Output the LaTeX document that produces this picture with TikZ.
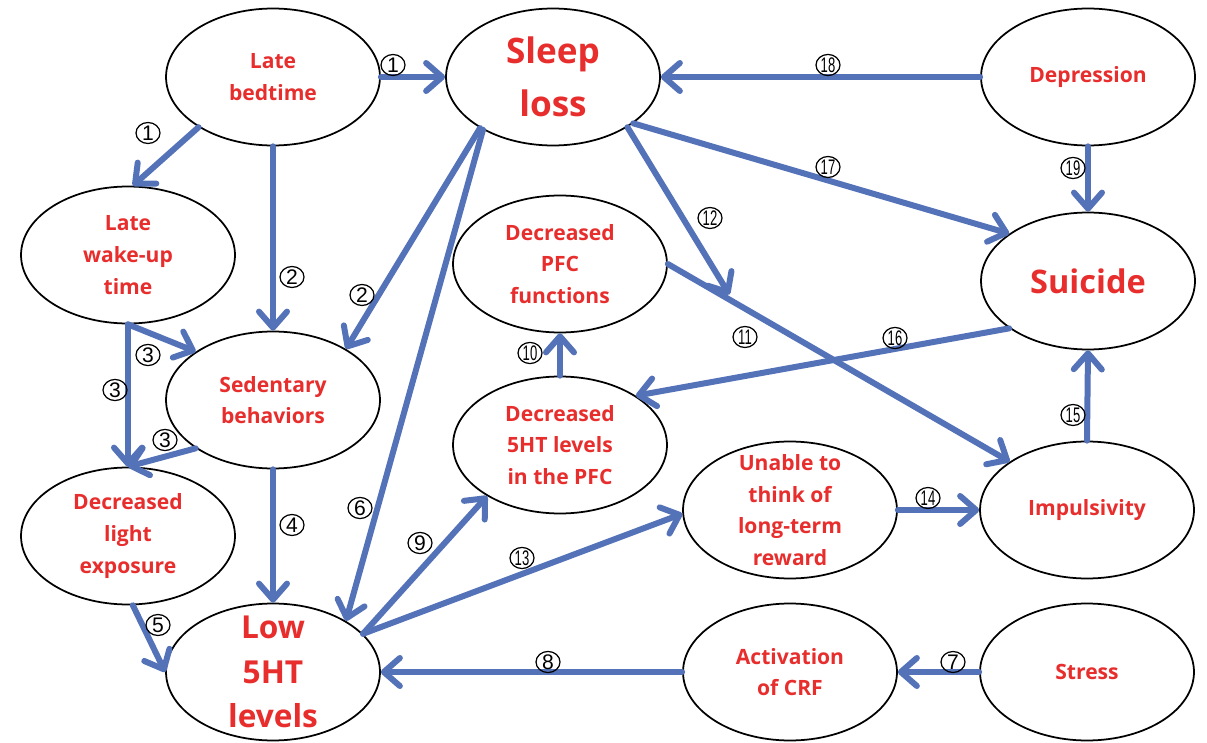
\documentclass[tikz,border=0pt]{standalone}
\usepackage{fontspec}
\usepackage{graphicx}
\setmainfont{Open Sans}
\newfontfamily\numfont{Liberation Sans}
\usetikzlibrary{arrows.meta,calc,shapes.geometric}
\definecolor{arrblue}{RGB}{84,114,184}
\definecolor{txtred}{RGB}{232,45,45}
\begin{document}
\begin{tikzpicture}[x=0.02cm,y=-0.02cm,
  ell/.style={draw=black, line width=1pt, ellipse, minimum width=4.28cm, minimum height=2.74cm, inner sep=0pt, fill=white,
    label={[text=txtred, align=center, font=\fontsize{12}{18}\selectfont\bfseries]center:#1}},
  bigell/.style={draw=black, line width=1pt, ellipse, minimum width=4.28cm, minimum height=2.74cm, inner sep=0pt, fill=white,
    label={[text=txtred, align=center, font=\fontsize{20}{30}\selectfont\bfseries]center:#1}},
  suiell/.style={draw=black, line width=1pt, ellipse, minimum width=4.28cm, minimum height=2.74cm, inner sep=0pt, fill=white,
    label={[text=txtred, align=center, font=\fontsize{18.5}{30}\selectfont\bfseries]center:#1}},
  lowell/.style={draw=black, line width=1pt, ellipse, minimum width=4.28cm, minimum height=2.74cm, inner sep=0pt, fill=white,
    label={[text=txtred, align=center, font=\fontsize{18}{25.5}\selectfont\bfseries]center:#1}},
  conn/.style={draw=arrblue, line width=0.12cm, line cap=round,
    -{Straight Barb[length=0.32cm, width=0.56cm, round]}},
  cnum/.style={ellipse, draw=black, line width=0.7pt, inner sep=0pt, minimum width=0.48cm, minimum height=0.42cm, text=black,
    font=\numfont\fontsize{12}{12}\selectfont}
]
\useasboundingbox (0,0) rectangle (1207,743);

% ellipses
\node[ell={Late\\bedtime}] (bed) at (273,77) {};
\node[ell={Late\\wake-up\\time}] (wake) at (128,255) {};
\node[bigell={Sleep\\loss}] (sleep) at (553,77) {};
\node[ell={Depression}] (dep) at (1088,77) {};
\node[suiell={Suicide}] (sui) at (1088,281) {};
\node[ell={Decreased\\PFC\\functions}] (pfc) at (560,264) {};
\node[ell={Sedentary\\behaviors}] (sed) at (273,400) {};
\node[ell={Decreased\\light\\exposure}] (light) at (128,536) {};
\node[lowell={Low\\5HT\\levels}] (low) at (273,672) {};
\node[ell={Decreased\\5HT levels\\in the PFC}] (pfcfive) at (560,445) {};
\node[ell={Unable to\\think of\\long-term\\reward}] (unable) at (790,510) {};
\node[ell={Impulsivity}] (imp) at (1087,510) {};
\node[ell={Activation\\of CRF}] (crf) at (790,672) {};
\node[ell={Stress}] (stress) at (1087,672) {};

% connectors
\draw[conn] (bed.east) -- (sleep.west);
\draw[conn] (bed.214) -- (wake.86);
\draw[conn] (bed.south) -- (sed.north);
\draw[conn] (sleep.215) -- (sed.35);
\draw[conn] (sleep.217) -- (low.35);
\draw[conn] (wake.south) -- (sed.148);
\draw[conn] (wake.south) -- (light.north);
\draw[conn] (sed.212) -- (light.north);
\draw[conn] (sed.south) -- (low.north);
\draw[conn] (light.274) -- (low.west);
\draw[conn] (low.23) -- (pfcfive.215);
\draw[conn] (low.23) -- (unable.182);
\draw[conn] (crf.west) -- (low.east);
\draw[conn] (stress.west) -- (crf.east);
\draw[conn] (pfcfive.north) -- (pfc.south);
\draw[conn] (pfc.east) -- coordinate[pos=0.18] (mid) (imp.148);
\draw[conn] (sleep.326) -- ($(mid)+(0,-5)$);
\draw[conn] (sleep.330) -- (sui.149);
\draw[conn] (dep.west) -- (sleep.east);
\draw[conn] (dep.south) -- (sui.north);
\draw[conn] (sui.211) -- (pfcfive.33);
\draw[conn] (unable.east) -- (imp.west);
\draw[conn] (imp.north) -- (sui.south);

% circled numbers
\node[cnum] (c1a) at (393,65) {1};
\node[cnum] (c1b) at (148,133) {1};
\node[cnum] (c2a) at (292,277) {2};
\node[cnum] (c2b) at (362,295) {2};
\node[cnum] (c6) at (360,508) {6};
\node[cnum] (c3a) at (148,355) {3};
\node[cnum] (c3b) at (115,390) {3};
\node[cnum] (c3c) at (165,440) {3};
\node[cnum] (c4) at (292,525) {4};
\node[cnum] (c5) at (158,625) {5};
\node[cnum] (c9) at (420,543) {9};
\node[cnum] (c13) at (522,558) {\scalebox{0.62}[1]{13}};
\node[cnum] (c8) at (548,662) {8};
\node[cnum] (c7) at (953,662) {7};
\node[cnum] (c10) at (530,353) {\scalebox{0.62}[1]{10}};
\node[cnum] (c11) at (745,337) {\scalebox{0.62}[1]{11}};
\node[cnum] (c12) at (710,218) {\scalebox{0.62}[1]{12}};
\node[cnum] (c17) at (828,167) {\scalebox{0.62}[1]{17}};
\node[cnum] (c18) at (828,65) {\scalebox{0.62}[1]{18}};
\node[cnum] (c19) at (1073,168) {\scalebox{0.62}[1]{19}};
\node[cnum] (c16) at (895,338) {\scalebox{0.62}[1]{16}};
\node[cnum] (c14) at (928,498) {\scalebox{0.62}[1]{14}};
\node[cnum] (c15) at (1073,415) {\scalebox{0.62}[1]{15}};
\end{tikzpicture}
\end{document}
